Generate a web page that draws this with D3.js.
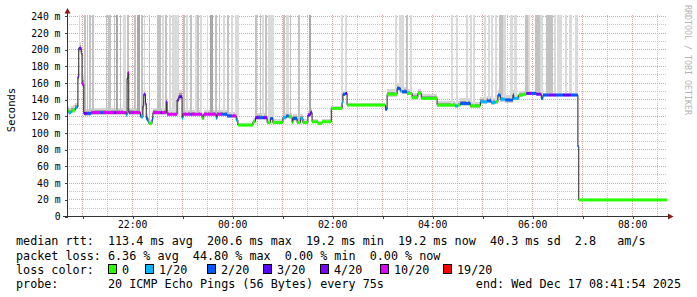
<!DOCTYPE html>
<html><head><meta charset="utf-8">
<script src="https://cdn.jsdelivr.net/npm/d3@7"></script>
<style>
html,body{margin:0;padding:0;background:#fff;}
svg{display:block;}
text{font-family:"DejaVu Sans Mono",monospace;}
</style></head><body><svg id="c" width="697" height="297"></svg>
<script>
// ---------- data ----------
const windowStart = "2025-12-16T20:41:54";
const windowEnd = "2025-12-17T08:41:54";
const yTickValues = [0,20,40,60,80,100,120,140,160,180,200,220,240];
const yTickLabels = ["0","20 m","40 m","60 m","80 m","100 m","120 m","140 m","160 m","180 m","200 m","220 m","240 m"];
const xTickLabels = ["22:00","00:00","02:00","04:00","06:00","08:00"];
const yAxisTitle = "Seconds";

// median rtt steps: start time, value (ms), lost pings (of 20), smoke spread (ms)
const medianTimes = ["20:42","20:44","20:47","20:49","20:52","20:54","20:55","20:56","20:59","21:00",
 "21:02","21:06","21:11","21:22","21:25","21:38","21:41","21:53","21:54","21:55",
 "21:56","21:58","22:10","22:11","22:13","22:14","22:16","22:17","22:19","22:20",
 "22:24","22:25","22:34","22:36","22:41","22:42","22:54","22:56","23:00","23:01",
 "23:10","23:12","23:24","23:26","23:41","23:42","23:48","23:54","00:00","00:05",
 "00:07","00:25","00:28","00:32","00:37","00:42","00:46","00:49","01:01","01:05",
 "01:08","01:12","01:13","01:18","01:22","01:25","01:31","01:34","01:36","01:43",
 "01:48","01:59","02:12","02:13","02:16","02:18","03:04","03:06","03:18","03:22",
 "03:24","03:30","03:36","03:43","03:47","04:06","04:28","04:31","04:34","04:46",
 "04:58","05:06","05:11","05:16","05:19","05:22","05:28","05:37","05:38","05:44",
 "05:49","05:53","05:59","06:05","06:11","06:13","06:20","06:29","06:37","06:47",
 "06:55","06:56"];
const medianValues = [126,124,126,127,130,131,167,201,195,158,
 123,123,124,124,124,124,124,121,165,172,
 124,124,120,119,132,146,135,117,113,111,
 116,124,124,124,137,122,139,143,117,122,
 122,122,117,122,117,122,122,120,120,115,
 109,113,118,118,118,112,117,112,118,120,
 119,112,117,112,117,112,121,124,113,111,
 113,129,136,146,147,133,128,146,153,150,
 149,147,142,147,141,133,132,133,135,132,
 137,138,136,137,145,140,139,145,141,145,
 146,147,147,146,141,145,145,145,145,145,
 83,19.3];
const medianLoss = [0,1,0,0,1,2,3,4,10,10,
 3,2,10,2,10,4,10,1,4,10,
 2,10,2,1,10,4,10,2,1,0,
 2,10,4,10,4,10,4,3,1,10,
 2,10,0,10,1,10,2,2,10,1,
 0,0,4,2,4,0,2,0,1,2,
 0,0,2,0,1,0,4,4,0,0,
 0,0,1,2,3,0,2,0,2,1,
 2,0,0,0,0,0,1,0,2,0,
 1,2,1,0,2,1,2,2,1,0,
 0,4,2,4,2,2,4,2,3,2,
 2,0];
const smokeSpread = [6,6,6,6,5,5,10,8,8,10,
 5,5,5,5,6,6,6,5,10,8,
 5,5,5,5,10,8,8,5,4,4,
 5,5,5,6,8,5,10,8,5,5,
 5,5,4,5,4,5,5,5,5,4,
 3,4,6,6,6,4,5,4,5,5,
 5,4,5,4,5,4,5,5,3,3,
 3,3,4,4,4,3,5,6,6,6,
 6,5,5,5,5,5,5,5,6,5,
 6,6,6,6,6,6,6,6,5,5,
 4,3,3,3,3,2,2,2,2,2,
 0,0];

// steps where some pings went off the top of the chart
const spikeTimes = ["20:56","21:02","21:06","21:08","21:12","21:29","21:31","21:34","21:38","21:41",
 "21:46","21:49","21:54","22:02","22:06","22:11","22:14","22:20","22:30","22:36",
 "22:40","22:44","22:48","23:01","23:05","23:10","23:15","23:18","23:22","23:30",
 "23:33","23:39","23:44","23:49","23:54","23:59","00:03","00:28","00:34","00:36",
 "00:40","00:43","01:01","01:05","01:10","01:19","01:32","02:11","02:16","03:16",
 "03:20","03:23","03:29","03:34","04:23","04:29","04:41","04:46","04:49","05:02",
 "05:07","05:11","05:16","05:20","05:25","05:34","05:38","05:52","05:55","06:04",
 "06:10","06:17","06:26","06:30","06:34","06:40","06:44","06:52"];
const spikeMinutes = [1,2,1,2,2,1,2,1,1,2,
 1,4,2,2,4,2,1,1,5,2,
 2,2,8,2,2,2,2,2,2,1,
 4,2,1,2,2,3,5,2,1,2,
 2,7,2,3,1,2,2,2,2,2,
 2,4,2,2,2,2,2,2,2,2,
 2,2,2,5,4,4,4,3,2,6,
 4,8,2,3,3,2,4,4];
const spikeLevel = [1,2,2,2,2,2,2,2,2,3,
 2,1,2,2,3,2,1,2,2,1,
 2,1,1,2,1,2,1,2,1,1,
 3,2,2,1,2,1,1,2,2,1,
 2,1,2,1,2,2,3,1,1,1,
 1,1,2,1,1,1,1,1,1,1,
 1,1,1,2,1,1,1,2,1,2,
 1,2,1,1,1,1,1,1];

const lossLevels = [0,1,2,3,4,10,19];
const lossLabels = ["0","1/20","2/20","3/20","4/20","10/20","19/20"];
const lossColors = ["#26ff00","#00b8ff","#0059ff","#5e00ff","#7e00ff","#dd00ff","#ff0000"];

const rttStats = ["113.4 ms avg","200.6 ms max","19.2 ms min","19.2 ms now","40.3 ms sd","2.8   am/s"];
const lossStats = ["6.36 % avg","44.80 % max","0.00 % min","0.00 % now"];
const probeText = "20 ICMP Echo Pings (56 Bytes) every 75s";
const endText = "end: Wed Dec 17 08:41:54 2025";
const watermark = "RRDTOOL / TOBI OETIKER";

// ---------- drawing ----------
const svg = d3.select("#c");
const nb = s => s.replace(/ /g, "\u00a0");
const parseClock = s => { const [h,m] = s.split(":").map(Number); return new Date(2025, 11, h >= 12 ? 16 : 17, h, m, 0); };
const t0 = new Date(windowStart), t1 = new Date(windowEnd);
const x = d3.scaleTime().domain([t0, t1]).range([67, 667]);
const y = d3.scaleLinear().domain([0, 241]).range([216, 15]);
const px = v => Math.round(v) + 0.5;

const medDates = medianTimes.map(parseClock);
const segEnd = i => i + 1 < medDates.length ? medDates[i + 1] : t1;
const lossColor = l => { let c = lossColors[0]; lossLevels.forEach((lv, k) => { if (l >= lv) c = lossColors[k]; }); return c; };

// grid
const grid = svg.append("g").attr("shape-rendering", "crispEdges").attr("stroke-dasharray", "1,1");
const minorY = d3.range(10, 241, 10).filter(v => v % 20 !== 0);
grid.selectAll(".gym").data(minorY).join("line")
  .attr("x1", 67).attr("x2", 667).attr("y1", d => px(y(d))).attr("y2", d => px(y(d))).attr("stroke", "#c8c8c8");
const halfHours = x.ticks(d3.timeMinute.every(30)).filter(d => d.getMinutes() === 30);
grid.selectAll(".gxm").data(halfHours).join("line")
  .attr("x1", d => px(x(d))).attr("x2", d => px(x(d))).attr("y1", 216).attr("y2", 14).attr("stroke", "#c8c8c8");
grid.selectAll(".gyM").data(yTickValues.filter(v => v > 0)).join("line")
  .attr("x1", 67).attr("x2", 667).attr("y1", d => px(y(d))).attr("y2", d => px(y(d))).attr("stroke", "#e3a0a0");
const hours = x.ticks(d3.timeHour.every(1));
grid.selectAll(".gxM").data(hours).join("line")
  .attr("x1", d => px(x(d))).attr("x2", d => px(x(d))).attr("y1", 216).attr("y2", 14).attr("stroke", "#e3a0a0");

// smoke
const smoke = svg.append("g").attr("shape-rendering", "crispEdges");
medDates.forEach((d, i) => {
  const s = smokeSpread[i]; if (!s) return;
  const xa = x(d), xb = x(segEnd(i)), v = medianValues[i];
  smoke.append("rect").attr("x", xa).attr("width", xb - xa)
    .attr("y", y(v + s)).attr("height", y(v - s * 0.5) - y(v + s)).attr("fill", "#d4d4d4");
  smoke.append("rect").attr("x", xa).attr("width", xb - xa)
    .attr("y", y(v + s * 0.5)).attr("height", y(v - s * 0.25) - y(v + s * 0.5)).attr("fill", "#a0a0a0");
});
// spikes off the top
const spikeFill = ["#dadada", "#c2c2c2", "#a6a6a6"];
spikeTimes.forEach((s, i) => {
  const d = parseClock(s);
  const idx = Math.max(0, d3.bisectRight(medDates, d) - 1);
  const v = medianValues[idx];
  const xa = x(d), xb = x(new Date(+d + spikeMinutes[i] * 60000));
  smoke.append("rect").attr("x", Math.round(xa)).attr("width", Math.max(1, Math.round(xb - xa)))
    .attr("y", 15).attr("height", y(v) - 15).attr("fill", spikeFill[spikeLevel[i] - 1]);
});

// median line
const stepData = medDates.map((d, i) => [d, medianValues[i]]).concat([[t1, medianValues[medianValues.length - 1]]]);
svg.append("path").datum(stepData)
  .attr("d", d3.line().x(d => x(d[0])).y(d => y(d[1])).curve(d3.curveStepAfter))
  .attr("fill", "none").attr("stroke", "#202020").attr("stroke-width", 1);
// loss coloured bars
svg.append("g").selectAll("rect").data(medDates).join("rect")
  .attr("x", d => x(d)).attr("width", (d, i) => x(segEnd(i)) - x(d))
  .attr("y", (d, i) => y(medianValues[i]) - 1.5).attr("height", 3)
  .attr("fill", (d, i) => lossColor(medianLoss[i]));

// axes
const yAx = svg.append("g").attr("transform", "translate(67,0)")
  .call(d3.axisLeft(y).tickValues(yTickValues).tickFormat((d, i) => nb(yTickLabels[i])).tickSizeInner(2).tickSizeOuter(0).tickPadding(4.5));
yAx.select(".domain").remove();
yAx.selectAll("line").attr("stroke", "#444").attr("shape-rendering", "crispEdges").attr("transform", "translate(0,0.5)");
yAx.selectAll("text").attr("font-family", "DejaVu Sans Mono").attr("font-size", "9.75px").attr("fill", "#000").attr("dy", "0.36em");

const fmt = d3.timeFormat("%H:%M");
const xAx = svg.append("g").attr("transform", "translate(0,216)")
  .call(d3.axisBottom(x).tickValues(hours).tickFormat(d => xTickLabels.includes(fmt(d)) ? fmt(d) : "").tickSizeInner(3).tickSizeOuter(0).tickPadding(2));
xAx.select(".domain").remove();
xAx.selectAll("line").attr("stroke", "#444").attr("shape-rendering", "crispEdges").attr("transform", "translate(0.5,0)");
xAx.selectAll("text").attr("font-family", "DejaVu Sans Mono").attr("font-size", "9.75px").attr("fill", "#000");

svg.append("line").attr("x1", 67.5).attr("x2", 67.5).attr("y1", 218).attr("y2", 12).attr("stroke", "#333").attr("shape-rendering", "crispEdges");
svg.append("line").attr("x1", 63).attr("x2", 669).attr("y1", 216.5).attr("y2", 216.5).attr("stroke", "#333").attr("shape-rendering", "crispEdges");
svg.append("path").attr("d", "M64.5,13.5L70.5,13.5L67.5,8Z").attr("fill", "#8b1a1a");
svg.append("path").attr("d", "M668,213.5L668,219.5L673.5,216.5Z").attr("fill", "#8b1a1a");

// titles
svg.append("text").attr("transform", "translate(15,110) rotate(-90)").attr("text-anchor", "middle")
  .attr("font-family", "DejaVu Sans").attr("font-size", "10.5px").attr("fill", "#000").text(yAxisTitle);
svg.append("text").attr("transform", "translate(685,5) rotate(90)").attr("text-anchor", "start")
  .attr("font-size", "8.3px").attr("fill", "#b4b4b4").text(nb(watermark));

// legend
const lg = svg.append("g").attr("font-size", "11.76px").attr("fill", "#000");
lg.append("text").attr("x", 16).attr("y", 245).text(nb("median rtt:  " + rttStats.join("  ")));
lg.append("text").attr("x", 16).attr("y", 260).text(nb("packet loss: " + lossStats.join("  ")));
lg.append("text").attr("x", 16).attr("y", 273.5).text("loss color:");
const boxX = [108, 145, 207, 263, 320, 380, 443];
lossLabels.forEach((l, i) => {
  lg.append("rect").attr("x", boxX[i] + 0.5).attr("y", 264.5).attr("width", 8).attr("height", 9)
    .attr("fill", lossColors[i]).attr("stroke", "#000").attr("stroke-width", 1);
  lg.append("text").attr("x", boxX[i] + 14).attr("y", 273.5).text(l);
});
lg.append("text").attr("x", 16).attr("y", 288).text(nb("probe:       " + probeText));
lg.append("text").attr("x", 681).attr("y", 288).attr("text-anchor", "end").text(nb(endText));
</script></body></html>
